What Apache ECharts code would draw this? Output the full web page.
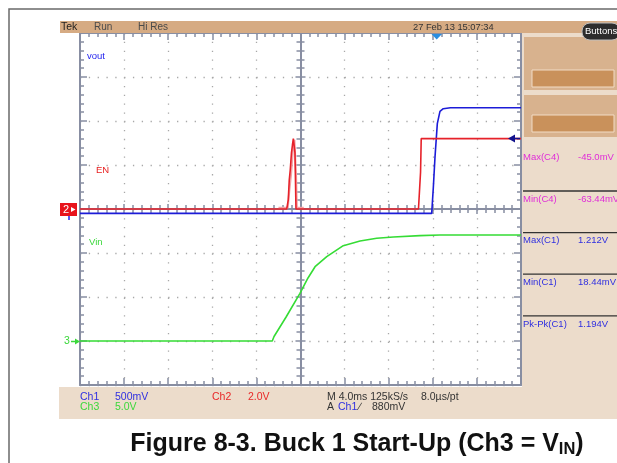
<!DOCTYPE html>
<html><head><meta charset="utf-8">
<script src="https://cdn.jsdelivr.net/npm/echarts@6/dist/echarts.min.js"></script>
<style>html,body{margin:0;padding:0;background:#fff}#c{width:617px;height:463px}</style>
</head><body><div id="c"></div>
<script>
// ---- horizontal: 4 ms/div, 10 divisions; vertical: 8 divisions ----
const xTicks = [-20, -16, -12, -8, -4, 0, 4, 8, 12, 16, 20];
const yTicks = [-4, -3, -2, -1, 0, 1, 2, 3, 4];

// ---- channel settings (V/div, ground offset in div) ----
const ch1Scale = 0.5, ch1Offset = -0.1;   // vout
const ch2Scale = 2.0, ch2Offset = 0;      // EN
const ch3Scale = 5.0, ch3Offset = -3;     // Vin

// ---- Ch1 vout (ms, V) ----
const voutT = [-20, 11.90, 12.05, 12.20, 12.41, 12.65, 12.95, 13.6, 20];
const voutV = [0, 0, 0.30, 0.64, 1.02, 1.16, 1.19, 1.20, 1.20];

// ---- Ch2 EN (ms, V) ----
const enT = [-20, -1.25, -1.11, -1.02, -0.93, -0.82, -0.73, -0.65, -0.56, -0.50, -0.41, 10.70, 10.86, 10.89, 10.95, 20];
const enV = [0, 0, 0.41, 1.32, 1.77, 2.55, 2.91, 3.20, 3.20, 2.55, 0, 0, 0, 1.68, 3.20, 3.20];
// persistence (lighter) copy of the EN glitch
const enGhostT = [-2.0, -1.15, -1.00, -0.85, -0.70, -0.55, -0.47, -0.40, -0.33, 0.3];
const enGhostV = [0.06, 0.06, 0.90, 1.60, 2.60, 3.15, 3.15, 1.50, 0.06, 0.06];

// ---- Ch3 Vin (ms, V) ----
const vinT = [-20, -2.56, -2.40, -1.32, -0.05, 0.68, 1.32, 2.38, 3.88, 5.40, 6.91, 8.42, 10.84, 12.65, 20];
const vinV = [0, 0, 0.51, 2.70, 5.42, 7.16, 8.44, 9.58, 10.83, 11.36, 11.67, 11.82, 11.97, 12.05, 12.05];

// ---- measurement readouts ----
const measLabels = ['Max(C4)', 'Min(C4)', 'Max(C1)', 'Min(C1)', 'Pk-Pk(C1)'];
const measValues = ['-45.0mV', '-63.44mV', '1.212V', '18.44mV', '1.194V'];
const measColors = ['#e02cd8', '#e02cd8', '#2f2fe0', '#2f2fe0', '#2f2fe0'];

const toPts = (ts, vs, scale, off) => ts.map((t, i) => [t, off + vs[i] / scale]);

const FRAME = '#888ea2';
const DOT = '#a8a8a8';
const FONT = 'Liberation Sans';

function xAx(grid, pos, offset, major, minor, split) {
  return {
    gridIndex: grid, type: 'value', min: xTicks[0], max: xTicks[xTicks.length - 1], interval: 4,
    position: pos, offset: offset, z: 1,
    axisLine: { show: true, onZero: false, lineStyle: { color: FRAME, width: 2 } },
    axisTick: { show: true, inside: true, length: major, lineStyle: { color: FRAME, width: 1.5 } },
    minorTick: { show: true, splitNumber: 5, length: minor, lineStyle: { color: FRAME, width: 1.5 } },
    axisLabel: { show: false },
    splitLine: { show: split, lineStyle: { color: DOT, width: 1.3, type: [1.3, 7.52] } },
    minorSplitLine: { show: false }
  };
}
function yAx(grid, pos, offset, major, minor, split) {
  return {
    gridIndex: grid, type: 'value', min: yTicks[0], max: yTicks[yTicks.length - 1], interval: 1,
    position: pos, offset: offset, z: 1,
    axisLine: { show: true, onZero: false, lineStyle: { color: FRAME, width: 2 } },
    axisTick: { show: true, inside: true, length: major, lineStyle: { color: FRAME, width: 1.5 } },
    minorTick: { show: true, splitNumber: 5, length: minor, lineStyle: { color: FRAME, width: 1.5 } },
    axisLabel: { show: false },
    splitLine: { show: split, lineStyle: { color: DOT, width: 1.3, type: [1.3, 7.52] } },
    minorSplitLine: { show: false }
  };
}

const G = { left: 80, top: 33, width: 441, height: 352 };

const txt = (x, y, s, color, size, extra) => Object.assign({
  type: 'text', x: x, y: y, z: 20,
  style: { text: s, fill: color, font: (size || 10) + 'px ' + FONT, verticalAlign: 'middle', align: 'left' }
}, extra || {});

const graphics = [
  // outer figure frame
  { type: 'rect', z: 1, shape: { x: 9, y: 9, width: 700, height: 500 }, style: { fill: 'none', stroke: '#6a6a6a', lineWidth: 1.5 } },
  // top status bar
  { type: 'rect', z: 2, shape: { x: 60, y: 21, width: 557, height: 12 }, style: { fill: '#d6ab83' } },
  // right panel & bottom band
  { type: 'rect', z: 2, shape: { x: 522, y: 33, width: 95, height: 386 }, style: { fill: '#ecdccb' } },
  { type: 'rect', z: 2, shape: { x: 59, y: 387, width: 558, height: 32 }, style: { fill: '#ecdccb' } },
  { type: 'rect', z: 3, shape: { x: 524, y: 37, width: 93, height: 53 }, style: { fill: '#d8b28e' } },
  { type: 'rect', z: 3, shape: { x: 524, y: 95, width: 93, height: 42 }, style: { fill: '#d8b28e' } },
  { type: 'rect', z: 4, shape: { x: 532, y: 70, width: 82, height: 17 }, style: { fill: '#c9915b', stroke: '#f2dcc6', lineWidth: 1 } },
  { type: 'rect', z: 4, shape: { x: 532, y: 115, width: 82, height: 17 }, style: { fill: '#c9915b', stroke: '#f2dcc6', lineWidth: 1 } },
  { type: 'rect', z: 5, shape: { x: 582, y: 23, width: 38, height: 17, r: 8 }, style: { fill: '#2d2d2d', stroke: '#bdbdbd', lineWidth: 1 } },
  txt(585, 31.5, 'Buttons', '#ffffff', 9.5),
  // status bar texts
  txt(61, 27, 'Tek', '#1e1e1e', 10.5),
  txt(94, 27, 'Run', '#4a4a4a', 10),
  txt(138, 27, 'Hi Res', '#4a4a4a', 10),
  txt(413, 27, '27 Feb 13 15:07:34', '#333333', 9.3),
  // trace labels
  txt(87, 56, 'vout', '#2424ee', 9.5),
  txt(96, 170, 'EN', '#e82020', 9.5),
  txt(89, 242, 'Vin', '#3bd83b', 9.5),
  // ground markers
  { type: 'rect', z: 10, shape: { x: 60, y: 203, width: 17, height: 13 }, style: { fill: '#e8141c' } },
  txt(63, 209.8, '2', '#ffffff', 11, {}),
  { type: 'polygon', z: 11, shape: { points: [[71, 207], [75.5, 209.5], [71, 212]] }, style: { fill: '#ffffff' } },
  { type: 'line', z: 10, shape: { x1: 69, y1: 216, x2: 69, y2: 220 }, style: { stroke: '#2424ee', lineWidth: 1.5 } },
  txt(64, 341.5, '3', '#3bd83b', 10.5),
  { type: 'line', z: 10, shape: { x1: 71, y1: 341.5, x2: 78, y2: 341.5 }, style: { stroke: '#3bd83b', lineWidth: 1.5 } },
  { type: 'polygon', z: 10, shape: { points: [[75, 338.5], [80, 341.5], [75, 344.5]] }, style: { fill: '#3bd83b' } },
  // trigger position & level markers
  { type: 'polygon', z: 12, shape: { points: [[431.5, 34], [442, 34], [436.7, 39.5]] }, style: { fill: '#2a8ee0' } },
  { type: 'polygon', z: 12, shape: { points: [[508, 138.5], [515, 134.5], [515, 142.5]] }, style: { fill: '#12128c' } },
  { type: 'line', z: 12, shape: { x1: 514, y1: 138.5, x2: 520, y2: 138.5 }, style: { stroke: '#12128c', lineWidth: 1.5 } },
  // bottom readouts
  txt(80, 397, 'Ch1', '#2f2fe0', 10.5),
  txt(115, 397, '500mV', '#2f2fe0', 10.5),
  txt(80, 407.5, 'Ch3', '#3bd83b', 10.5),
  txt(115, 407.5, '5.0V', '#3bd83b', 10.5),
  txt(212, 397, 'Ch2', '#e82828', 10.5),
  txt(248, 397, '2.0V', '#e82828', 10.5),
  txt(327, 397, 'M 4.0ms 125kS/s', '#333333', 10.5),
  txt(421, 397, '8.0\u00b5s/pt', '#333333', 10.5),
  txt(327, 407.5, 'A', '#333333', 10.5),
  txt(338, 407.5, 'Ch1', '#2f2fe0', 10.5),
  txt(359, 407.5, '\u2215', '#333333', 10.5),
  txt(372, 407.5, '880mV', '#333333', 10.5),
  // figure caption
  {
    type: 'text', x: 357, y: 444, z: 20,
    style: {
      text: '{a|Figure 8-3. Buck 1 Start-Up (Ch3 = V}{s|IN}{a|)}',
      align: 'center', verticalAlign: 'middle',
      rich: {
        a: { fontSize: 25, fontWeight: 'bold', fontFamily: FONT, fill: '#111', color: '#111', lineHeight: 30 },
        s: { fontSize: 16.5, fontWeight: 'bold', fontFamily: FONT, fill: '#111', color: '#111', padding: [10, 0, 0, 0] }
      }
    }
  }
];
// measurement rows and separators
measLabels.forEach((m, i) => {
  const yy = 157.5 + i * 41.6;
  graphics.push(txt(523, yy, m, measColors[i], 9.5));
  graphics.push(txt(578, yy, measValues[i], measColors[i], 9.5));
  if (i < measLabels.length - 1) {
    graphics.push({ type: 'line', z: 6, shape: { x1: 523, y1: yy + 33.5, x2: 617, y2: yy + 33.5 }, style: { stroke: '#333', lineWidth: 1.3 } });
  }
});

const chart = echarts.init(document.getElementById('c'), null, { renderer: 'canvas' });
chart.setOption({
  animation: false,
  backgroundColor: '#ffffff',
  grid: [
    Object.assign({ show: false, outerBoundsMode: 'none', containLabel: false }, G),
    Object.assign({ show: false, outerBoundsMode: 'none', containLabel: false }, G)
  ],
  xAxis: [
    xAx(0, 'bottom', 0, 7, 4, true),
    xAx(0, 'top', 0, 7, 4, false),
    xAx(1, 'bottom', -176, 5, 4, false),
    xAx(1, 'top', -176, 5, 4, false)
  ],
  yAxis: [
    yAx(0, 'left', 0, 7, 4, true),
    yAx(0, 'right', 0, 7, 4, false),
    yAx(1, 'left', -220.5, 5, 4, false),
    yAx(1, 'right', -220.5, 5, 4, false)
  ],
  graphic: graphics,
  series: [
    { type: 'line', name: 'EN ghost', xAxisIndex: 0, yAxisIndex: 0, showSymbol: false, silent: true, z: 4,
      data: toPts(enGhostT, enGhostV, ch2Scale, ch2Offset), lineStyle: { color: '#f3a3a6', width: 2 } },
    { type: 'line', name: 'Vin', xAxisIndex: 0, yAxisIndex: 0, showSymbol: false, z: 5,
      data: toPts(vinT, vinV, ch3Scale, ch3Offset), lineStyle: { color: '#35dc35', width: 1.6 } },
    { type: 'line', name: 'vout', xAxisIndex: 0, yAxisIndex: 0, showSymbol: false, z: 6,
      data: toPts(voutT, voutV, ch1Scale, ch1Offset), lineStyle: { color: '#1c1cd8', width: 1.6 } },
    { type: 'line', name: 'EN', xAxisIndex: 0, yAxisIndex: 0, showSymbol: false, z: 7,
      data: toPts(enT, enV, ch2Scale, ch2Offset), lineStyle: { color: '#e6222a', width: 1.6 } }
  ]
});
</script></body></html>
